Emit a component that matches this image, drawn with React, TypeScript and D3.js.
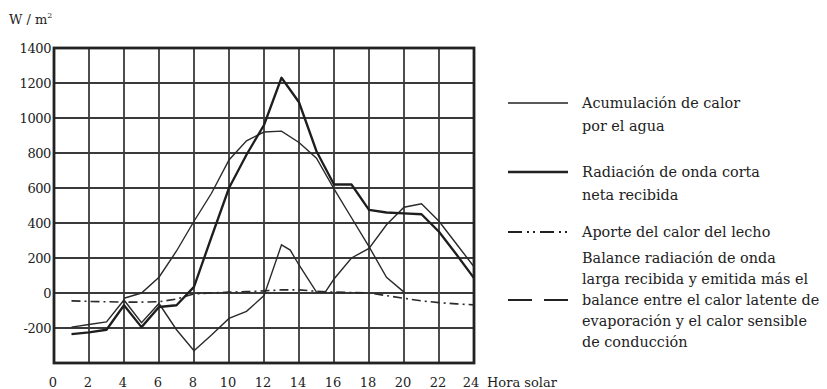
import React from 'react';
import * as d3 from 'd3';

// hora solar
const horas = [1, 2, 3, 4, 5, 6, 7, 8, 9, 10, 11, 12, 13, 14, 15, 16, 17, 18, 19, 20, 21, 22, 23, 24];

// acumulación (línea gruesa con el pico a las 13 h)
const acumulacion = [-235, -225, -210, -70, -195, -80, -70, 35, 320, 600, 790, 960, 1230, 1090, 810, 620, 620, 475, 460, 455, 450, 350, 220, 85];

// radiación de onda corta (campana), de 4 a 20 h
const horasRad = [4, 5, 6, 7, 8, 9, 10, 11, 12, 13, 14, 15, 16, 17, 18, 19, 20];
const radiacion = [-30, 0, 90, 240, 410, 570, 760, 870, 920, 925, 860, 770, 595, 430, 265, 90, 5];

// balance onda larga + latente + sensible
const horasBal = [1, 2, 3, 4, 5, 6, 7, 8, 9, 10, 11, 12, 13, 13.5, 14, 15, 15.5, 16, 17, 18, 19, 20, 21, 22, 23, 24];
const balance = [-195, -180, -165, -40, -170, -60, -210, -330, -240, -145, -105, -15, 275, 245, 160, 5, 5, 80, 200, 255, 390, 490, 510, 410, 280, 150];

// aporte del calor del lecho
const lecho = [-45, -48, -50, -52, -52, -50, -35, -5, 0, 5, 8, 12, 18, 18, 10, 5, 3, 0, -15, -30, -45, -55, -62, -68];

const xTicks = [0, 2, 4, 6, 8, 10, 12, 14, 16, 18, 20, 22, 24];
const yTicks = [-200, 0, 200, 400, 600, 800, 1000, 1200, 1400];

const legend = [
  { lines: ['Acumulación de calor', 'por el agua'], y: 103, width: 1.3, dash: '' },
  { lines: ['Radiación de onda corta', 'neta recibida'], y: 172, width: 2.4, dash: '' },
  { lines: ['Aporte del calor del lecho'], y: 232, width: 1.8, dash: '14,5,2,4,2,5' },
  {
    lines: [
      'Balance radiación de onda',
      'larga recibida y emitida más el',
      'balance entre el calor latente de',
      'evaporación y el calor sensible',
      'de conducción',
    ],
    y: 300,
    width: 1.8,
    dash: '24,12',
  },
];

const ink = '#2a2a2a';
const font = '"DejaVu Serif", "Liberation Serif", serif';

export default function App() {
  const x = d3.scaleLinear().domain([0, 24]).range([54, 474]);
  const y = d3.scaleLinear().domain([-400, 1400]).range([363, 48]);

  const line = d3
    .line<[number, number]>()
    .x((d) => x(d[0]))
    .y((d) => y(d[1]));

  const pAcum = line(horas.map((h, i) => [h, acumulacion[i]]));
  const pRad = line(horasRad.map((h, i) => [h, radiacion[i]]));
  const pBal = line(horasBal.map((h, i) => [h, balance[i]]));
  const pLecho = line(horas.map((h, i) => [h, lecho[i]]));

  const txt = { fontFamily: font, fill: '#222' };

  return (
    <svg width={827} height={389} style={{ position: 'absolute', left: 0, top: 0, background: '#fff' }}>
      {/* grid */}
      {xTicks.slice(1, -1).map((t) => (
        <line key={'vx' + t} x1={x(t)} x2={x(t)} y1={y(1400)} y2={y(-400)} stroke="#3a3a3a" strokeWidth={1.8} />
      ))}
      {yTicks.slice(0, -1).map((t) => (
        <line key={'hy' + t} x1={x(0)} x2={x(24)} y1={y(t)} y2={y(t)} stroke="#3a3a3a" strokeWidth={1.8} />
      ))}
      <rect x={x(0)} y={y(1400)} width={x(24) - x(0)} height={y(-400) - y(1400)} fill="none" stroke="#222" strokeWidth={2.8} />

      {/* series */}
      <path d={pLecho || ''} fill="none" stroke={ink} strokeWidth={1.6} strokeDasharray="9,4,2,4" />
      <path d={pBal || ''} fill="none" stroke={ink} strokeWidth={1.4} />
      <path d={pRad || ''} fill="none" stroke={ink} strokeWidth={1.4} />
      <path d={pAcum || ''} fill="none" stroke="#1e1e1e" strokeWidth={2.3} strokeLinejoin="round" />

      {/* y axis labels */}
      {yTicks.map((t) => (
        <text key={'yl' + t} x={x(0) - 3} y={y(t) + 5} textAnchor="end" fontSize={13} letterSpacing={-0.4} style={txt}>
          {t}
        </text>
      ))}
      <text x={9} y={24} fontSize={13} style={txt}>
        W / m
        <tspan dy={-6} fontSize={8}>2</tspan>
      </text>

      {/* x axis labels */}
      {xTicks.map((t) => (
        <text key={'xl' + t} x={x(t) - (t === 24 ? 3 : 1)} y={387} textAnchor="middle" fontSize={13} style={txt}>
          {t}
        </text>
      ))}
      <text x={487} y={387} fontSize={13} style={txt}>
        Hora solar
      </text>

      {/* legend */}
      {legend.map((l, i) => {
        const many = l.lines.length > 2;
        const first = many ? l.y - 2 * 21 : l.y;
        return (
          <g key={'lg' + i}>
            <line x1={508} x2={568} y1={l.y} y2={l.y} stroke="#222" strokeWidth={l.width} strokeDasharray={l.dash} />
            {l.lines.map((s, j) => (
              <text key={j} x={582} y={first + j * (many ? 21 : 23) + 5} fontSize={14.4} style={txt}>
                {s}
              </text>
            ))}
          </g>
        );
      })}
    </svg>
  );
}
